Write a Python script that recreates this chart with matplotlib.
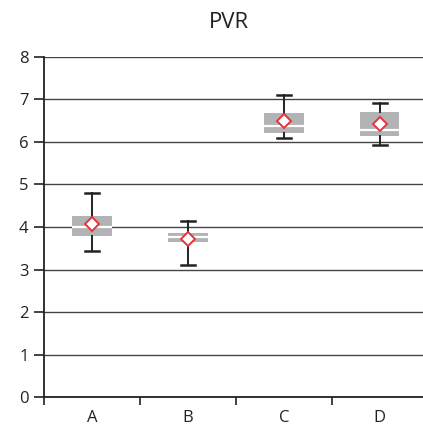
import matplotlib
matplotlib.use("Agg")
import matplotlib.pyplot as plt

categories = ["A", "B", "C", "D"]
whisker_low = [3.43, 3.10, 6.10, 5.92]
q1 = [3.80, 3.64, 6.20, 6.13]
median = [4.00, 3.76, 6.38, 6.29]
q3 = [4.25, 3.87, 6.67, 6.69]
whisker_high = [4.81, 4.13, 7.11, 6.92]
means = [4.06, 3.71, 6.50, 6.41]
y_ticks = [0, 1, 2, 3, 4, 5, 6, 7, 8]
title = "PVR"

plt.rcParams['font.family'] = ['Open Sans', 'DejaVu Sans']

fig = plt.figure(figsize=(4.23, 4.28), dpi=100)
ax = fig.add_axes([44/423, 1-397.3/428, 1-44/423, (397.3-56.7)/428])

stats = []
for i, c in enumerate(categories):
    stats.append(dict(label=c, whislo=whisker_low[i], q1=q1[i], med=median[i],
                      q3=q3[i], whishi=whisker_high[i], mean=means[i], fliers=[]))

ax.bxp(stats, positions=range(len(categories)), widths=0.41, patch_artist=True,
       showmeans=True, showfliers=False, manage_ticks=False,
       boxprops=dict(facecolor="#b3b3b6", edgecolor="none", linewidth=0),
       medianprops=dict(color="white", linewidth=1.6),
       whiskerprops=dict(color="#222222", linewidth=1.4),
       capprops=dict(color="#222222", linewidth=1.8),
       capwidths=0.14,
       meanprops=dict(marker="D", markerfacecolor="white", markeredgecolor="#e8323c",
                      markeredgewidth=1.4, markersize=6.8),
       zorder=3)

ax.set_ylim(0, 8)
ax.set_xlim(-0.5, 3.45)
ax.set_yticks(y_ticks)
ax.set_yticklabels([str(v) for v in y_ticks], fontsize=12, color="#222222")
ax.yaxis.grid(True, color="#444444", linewidth=1.0)
ax.set_axisbelow(True)

ax.set_xticks([-0.5, 0.5, 1.5, 2.5])
ax.set_xticklabels([])
ax.set_xticks(range(len(categories)), minor=True)
ax.set_xticklabels(categories, minor=True, fontsize=12, color="#222222")
ax.tick_params(axis="x", which="minor", length=0, pad=9)
ax.tick_params(axis="x", which="major", length=6, width=1.2, color="#222222")
ax.tick_params(axis="y", length=7, width=1.2, color="#222222", pad=4)

for s in ["top", "right"]:
    ax.spines[s].set_visible(False)
for s in ["left", "bottom"]:
    ax.spines[s].set_color("#222222")
    ax.spines[s].set_linewidth(1.3)

fig.text(229/423, 1-23/428, title, ha="center", va="center", fontsize=16, color="#222222")

fig.savefig("out.png", dpi=100)
